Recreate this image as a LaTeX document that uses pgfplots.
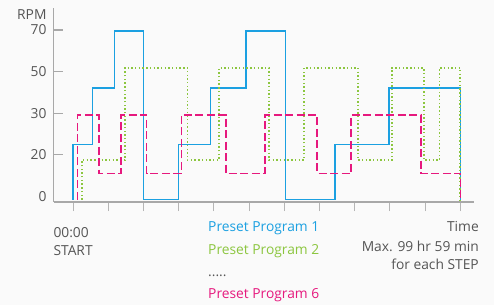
\documentclass[border=0pt]{standalone}
\usepackage{fontspec}
\setmainfont{Open Sans}
\usepackage{pgfplots}
\pgfplotsset{compat=1.18}
\definecolor{bg}{HTML}{FAFAFA}
\definecolor{axgray}{HTML}{A8A8A8}
\definecolor{txtgray}{HTML}{555555}
\definecolor{pblue}{HTML}{1BA0E1}
\definecolor{pgreen}{HTML}{8CC63F}
\definecolor{ppink}{HTML}{E6197E}
\begin{document}
\fontsize{13.8}{16}\selectfont
\begin{tikzpicture}[x=1pt,y=1pt]
\fill[bg] (0,0) rectangle (494,305);
\begin{axis}[at={(53.5pt,103.3pt)}, anchor=south west, scale only axis,
  width=420.5pt, height=193.7pt,
  xmin=-0.554, xmax=11.39, ymin=-0.13, ymax=4.53,
  clip=false,
  axis lines*=left, axis line style={axgray, line width=1.6pt},
  xtick={0,...,11}, xticklabels={},
  ytick={1,2,3,4}, yticklabels={20,30,50,70},
  extra y ticks={0}, extra y tick labels={0},
  extra y tick style={major tick length=0pt},
  xtick align=outside, ytick align=inside,
  major tick length=9.5pt,
  x tick style={axgray!85, line width=0.9pt},
  y tick style={axgray, line width=1.2pt},
  /pgf/number format/assume math mode=true,
  yticklabel style={text=txtgray, font=\fontsize{13.8}{16}\selectfont, xshift=-2.3pt},
]
\addplot[pblue, line width=1.5pt, const plot] coordinates {
 (0,-0.08) (0,1.25) (0.56,2.61) (1.18,3.98) (2,-0.08) (3,1.25) (3.91,2.61)
 (4.92,3.98) (6.04,-0.08) (7.44,1.25) (8.97,2.61) (11,-0.08)};
\addplot[pgreen, line width=1.7pt, const plot, dash pattern=on 1.4pt off 2.3pt] coordinates {
 (0.25,-0.08) (0.25,0.87) (1.48,3.09) (3.25,0.87) (4.15,3.09) (5.57,0.87)
 (6.56,3.09) (8.09,0.87) (9.06,3.09) (9.96,0.87) (10.41,3.09) (11,-0.08)};
\addplot[ppink, line width=1.5pt, const plot, dash pattern=on 8pt off 3.5pt] coordinates {
 (0.13,-0.08) (0.13,1.96) (0.74,0.55) (1.36,1.96) (2.09,0.55) (3.08,1.96)
 (4.35,0.55) (5.45,1.96) (6.93,0.55) (7.9,1.96) (9.89,0.55) (11,-0.08)};
\end{axis}
\node[anchor=east, text=txtgray, inner sep=0pt] at (46.7,290) {RPM};
\node[anchor=base west, text=txtgray, inner sep=0pt] at (53.3,68) {00:00};
\node[anchor=base west, text=txtgray, inner sep=0pt] at (53.3,49.7) {START};
\node[anchor=base west, text=pblue, inner sep=0pt] at (208,73.3) {Preset Program 1};
\node[anchor=base west, text=pgreen, inner sep=0pt] at (208,51) {Preset Program 2};
\node[anchor=base west, text=txtgray, inner sep=0pt] at (208,29) {.....};
\node[anchor=base west, text=ppink, inner sep=0pt] at (208,6.4) {Preset Program 6};
\node[anchor=base east, text=txtgray, inner sep=0pt] at (479,73.3) {Time};
\node[anchor=base east, text=txtgray, inner sep=0pt] at (479,53.7) {Max. 99 hr 59 min};
\node[anchor=base east, text=txtgray, inner sep=0pt] at (479,35.4) {for each STEP};
\end{tikzpicture}
\end{document}
